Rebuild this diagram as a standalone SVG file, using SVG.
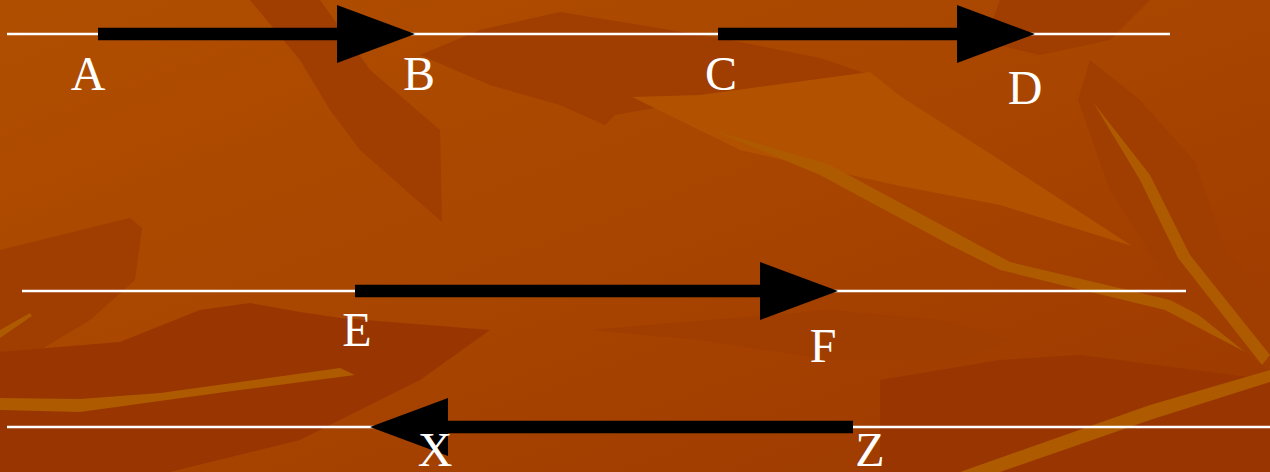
<svg xmlns="http://www.w3.org/2000/svg" width="1270" height="472" viewBox="0 0 1270 472">
<defs>
<linearGradient id="bg" x1="0" y1="0" x2="1" y2="1">
<stop offset="0" stop-color="#B04E00"/>
<stop offset="0.5" stop-color="#A84500"/>
<stop offset="1" stop-color="#9C3800"/>
</linearGradient>
<marker id="head" markerUnits="userSpaceOnUse" markerWidth="78" markerHeight="58" viewBox="0 0 78 58" refX="0" refY="29" orient="auto">
<path d="M0,0 L78,29 L0,58 Z" fill="#000"/>
</marker>
</defs>
<style>
.dark{fill:#A03D00}
.darker{fill:#983500}
.light{fill:#B25200}
.gold{fill:#AE5A00}
.base{stroke:#fff;stroke-width:2.5;fill:none}
.arrow{stroke:#000;stroke-width:12.5;fill:none;marker-end:url(#head)}
.lbl{font-family:"Liberation Serif","Times New Roman",serif;font-size:48px;fill:#fff;text-anchor:middle}
</style>
<g id="background">
<rect width="1270" height="472" fill="url(#bg)"/>
<polygon class="dark" points="250,0 320,0 370,70 440,130 442,222 360,150 330,110 300,60"/>
<polygon class="dark" points="420,55 490,85 560,105 605,125 615,115 700,100 790,95 870,75 820,58 730,40 640,25 560,12 480,30"/>
<polygon class="light" points="632,97 700,95 870,72 900,96 1000,160 1132,246 1000,205 900,186 740,150"/>
<polygon class="gold" points="712,130 830,165 960,235 1010,262 1170,300 1270,352 1270,365 1165,310 1000,270 950,245 820,175"/>
<polygon class="dark" points="1000,0 1150,0 1110,40 1040,55 985,42"/>
<polygon class="dark" points="1090,60 1140,100 1195,162 1225,250 1270,300 1270,372 1180,300 1110,190 1078,100"/>
<polygon class="gold" points="1093,102 1150,175 1190,255 1270,355 1262,365 1178,258 1140,180"/>
<polygon class="dark" points="0,250 130,218 142,228 135,280 90,320 40,350 0,355"/>
<polygon class="darker" points="0,352 120,342 200,310 250,303 300,312 340,318 490,330 420,380 300,440 170,472 0,472"/>
<polygon class="gold" points="0,398 80,399 160,393 340,368 355,375 240,390 80,412 0,410"/>
<polygon class="gold" points="0,330 30,313 32,316 0,338"/>
<polygon class="darker" points="880,380 1000,360 1080,355 1270,380 1270,472 880,472"/>
<polygon class="gold" points="960,472 1150,405 1270,370 1270,382 1150,420 1000,472"/>
<polygon class="dark" points="590,330 700,340 830,360 960,360 1010,340 940,320 830,310"/>
</g>
<g id="baselines">
<line class="base" x1="7" y1="34" x2="1170" y2="34"/>
<line class="base" x1="22" y1="291" x2="1186" y2="291"/>
<line class="base" x1="7" y1="427" x2="1270" y2="427"/>
</g>
<g id="connectors">
<line id="AB" class="arrow" x1="98" y1="34" x2="337" y2="34"/>
<line id="CD" class="arrow" x1="718" y1="34" x2="957" y2="34"/>
<line id="EF" class="arrow" x1="355" y1="291" x2="760" y2="291"/>
<line id="ZX" class="arrow" x1="853" y1="427" x2="448" y2="427"/>
</g>
<g id="A"><text class="lbl" x="88" y="90">A</text></g>
<g id="B"><text class="lbl" x="419" y="90">B</text></g>
<g id="C"><text class="lbl" x="721" y="90">C</text></g>
<g id="D"><text class="lbl" x="1025" y="104">D</text></g>
<g id="E"><text class="lbl" x="357" y="346">E</text></g>
<g id="F"><text class="lbl" x="823" y="362">F</text></g>
<g id="X"><text class="lbl" x="435" y="466">X</text></g>
<g id="Z"><text class="lbl" x="870" y="466">Z</text></g>
</svg>
